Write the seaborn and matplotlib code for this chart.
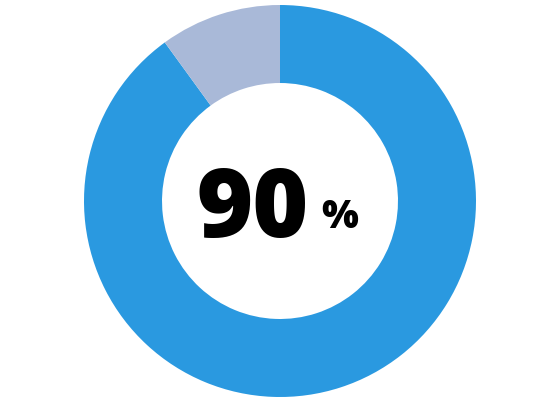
import matplotlib
matplotlib.use("Agg")
import matplotlib.pyplot as plt
import seaborn as sns

labels = ["Yes", "No"]
values = [90, 10]
colors = ["#2a99e0", "#a9b9d8"]
big_text = "90"
unit_text = "%"

sns.set_theme(style="white")
plt.rcParams['font.family'] = ['Open Sans', 'DejaVu Sans']

fig = plt.figure(figsize=(5.6, 4.0), dpi=100)
ax = fig.add_axes([0, 0, 1, 1])

ax.pie(values, colors=colors, startangle=90, counterclock=False,
       radius=1.0, wedgeprops=dict(width=0.398, edgecolor="none"))

px = 1 / 196
ax.set_xlim(-280 * px, 280 * px)
ax.set_ylim(-199 * px, 201 * px)
ax.set_aspect('auto')
ax.axis('off')

ax.text((253 - 280) * px, (201 - 237) * px, big_text, ha='center', va='baseline',
        fontsize=69, fontweight='heavy', color='black')
ax.text((340 - 280) * px, (201 - 228) * px, unit_text, ha='center', va='baseline',
        fontsize=28, fontweight='heavy', color='black')

fig.savefig("out.png", dpi=100, facecolor="white")
